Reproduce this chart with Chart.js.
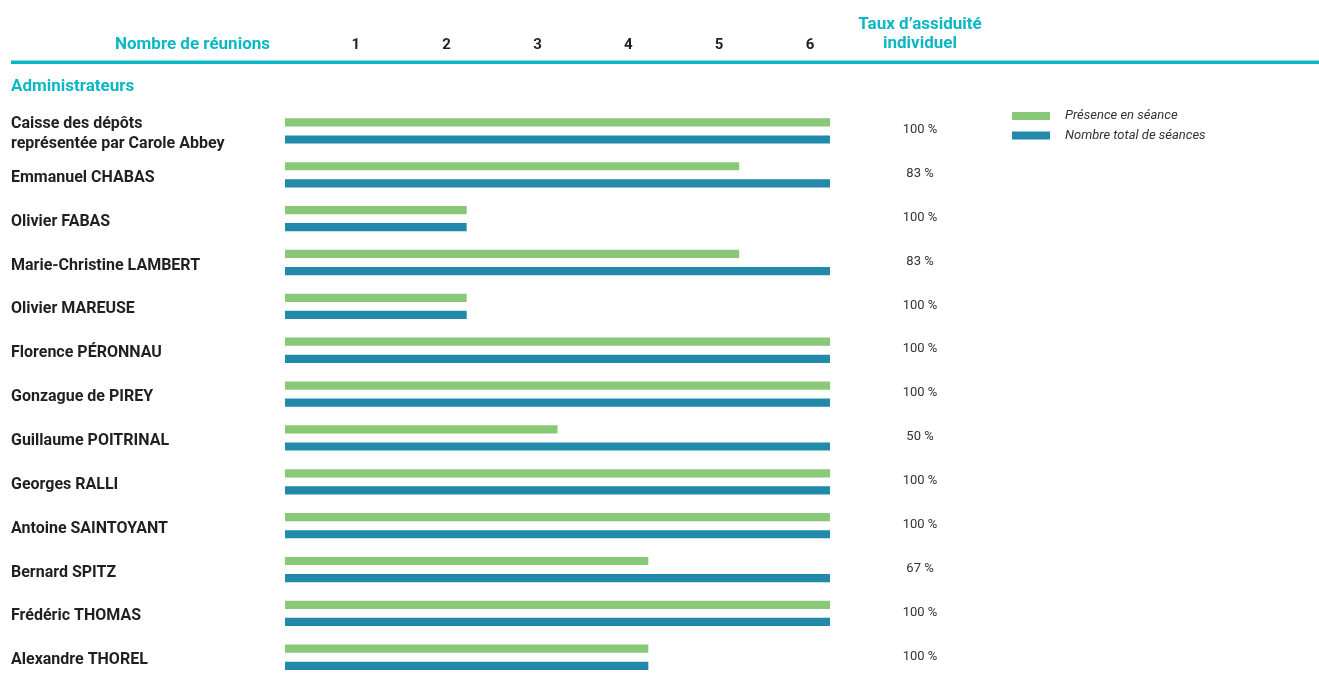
<!DOCTYPE html>
<html><head><meta charset="utf-8">
<script src="https://cdn.jsdelivr.net/npm/chart.js@4/dist/chart.umd.min.js"></script>
<style>html,body{margin:0;padding:0;background:#fff;overflow:hidden}</style>
</head><body><canvas id="c" width="1319" height="703"></canvas>
<script>
const categories = [
  ['Caisse des dépôts','représentée par Carole Abbey'],
  'Emmanuel CHABAS','Olivier FABAS','Marie-Christine LAMBERT','Olivier MAREUSE',
  'Florence PÉRONNAU','Gonzague de PIREY','Guillaume POITRINAL','Georges RALLI',
  'Antoine SAINTOYANT','Bernard SPITZ','Frédéric THOMAS','Alexandre THOREL'
];
const presence = [6,5,2,5,2,6,6,3,6,6,4,6,4];
const totalSeances = [6,6,2,6,2,6,6,6,6,6,6,6,4];
const tauxLabels = ['100 %','83 %','100 %','83 %','100 %','100 %','100 %','50 %','100 %','100 %','67 %','100 %','100 %'];
const xTickLabels = ['','1','2','3','4','5','6'];
const seriesNames = ['Présence en séance','Nombre total de séances'];

const TEAL = '#0CB7C5', GREEN = '#88C877', BLUE = '#2189A9', DARK = '#231F20';
const FONT = 'Roboto';

const overlay = {
  id: 'overlay',
  afterDraw(chart) {
    const ctx = chart.ctx, y = chart.scales.y;
    ctx.save();
    ctx.fillStyle = TEAL;
    ctx.fillRect(11, 60.5, 1308, 3.5);
    ctx.font = 'bold 17px ' + FONT;
    ctx.textBaseline = 'middle';
    ctx.textAlign = 'right';
    ctx.fillText('Nombre de réunions', 270, 45);
    ctx.textAlign = 'left';
    ctx.fillText('Administrateurs', 11, 87);
    ctx.textAlign = 'center';
    ctx.fillText('Taux d\u2019assiduité', 920, 25);
    ctx.fillText('individuel', 920, 44);
    ctx.font = '13px ' + FONT;
    ctx.fillStyle = '#333';
    tauxLabels.forEach((t, i) => ctx.fillText(t, 920, y.getPixelForValue(i) - 1));
    // legend
    ctx.textAlign = 'left';
    ctx.font = 'italic 13px ' + FONT;
    chart.data.datasets.forEach((ds, i) => {
      const ly = 116 + i * 19.5;
      ctx.fillStyle = ds.backgroundColor;
      ctx.fillRect(1012, ly - 4, 38, 8);
      ctx.fillStyle = '#333';
      ctx.fillText(ds.label, 1065, ly);
    });
    ctx.restore();
  }
};

new Chart(document.getElementById('c'), {
  type: 'bar',
  data: {
    labels: categories,
    datasets: [
      { label: seriesNames[0], data: presence, backgroundColor: GREEN },
      { label: seriesNames[1], data: totalSeances, backgroundColor: BLUE }
    ]
  },
  options: {
    indexAxis: 'y',
    responsive: false,
    animation: false,
    devicePixelRatio: 1,
    layout: { padding: { left: 11, right: 489, top: 0, bottom: 0 } },
    datasets: { bar: { categoryPercentage: 0.78, barPercentage: 0.48 } },
    plugins: { legend: { display: false }, tooltip: { enabled: false } },
    scales: {
      x: {
        position: 'top', min: 0, max: 6,
        grid: { display: false, drawTicks: false }, border: { display: false },
        ticks: { stepSize: 1, padding: 55, labelOffset: -20, color: DARK, autoSkip: false,
          font: { family: FONT, weight: 'bold', size: 15 },
          callback: (v) => xTickLabels[v] },
        afterFit: (s) => { s.height = 109; }
      },
      y: {
        grid: { display: false, drawTicks: false }, border: { display: false },
        ticks: { crossAlign: 'far', color: DARK, autoSkip: false, labelOffset: 3,
          font: { family: FONT, weight: 'bold', size: 16, lineHeight: 1.3 } },
        afterFit: (s) => { s.width = 274; }
      }
    }
  },
  plugins: [overlay]
});
</script></body></html>
